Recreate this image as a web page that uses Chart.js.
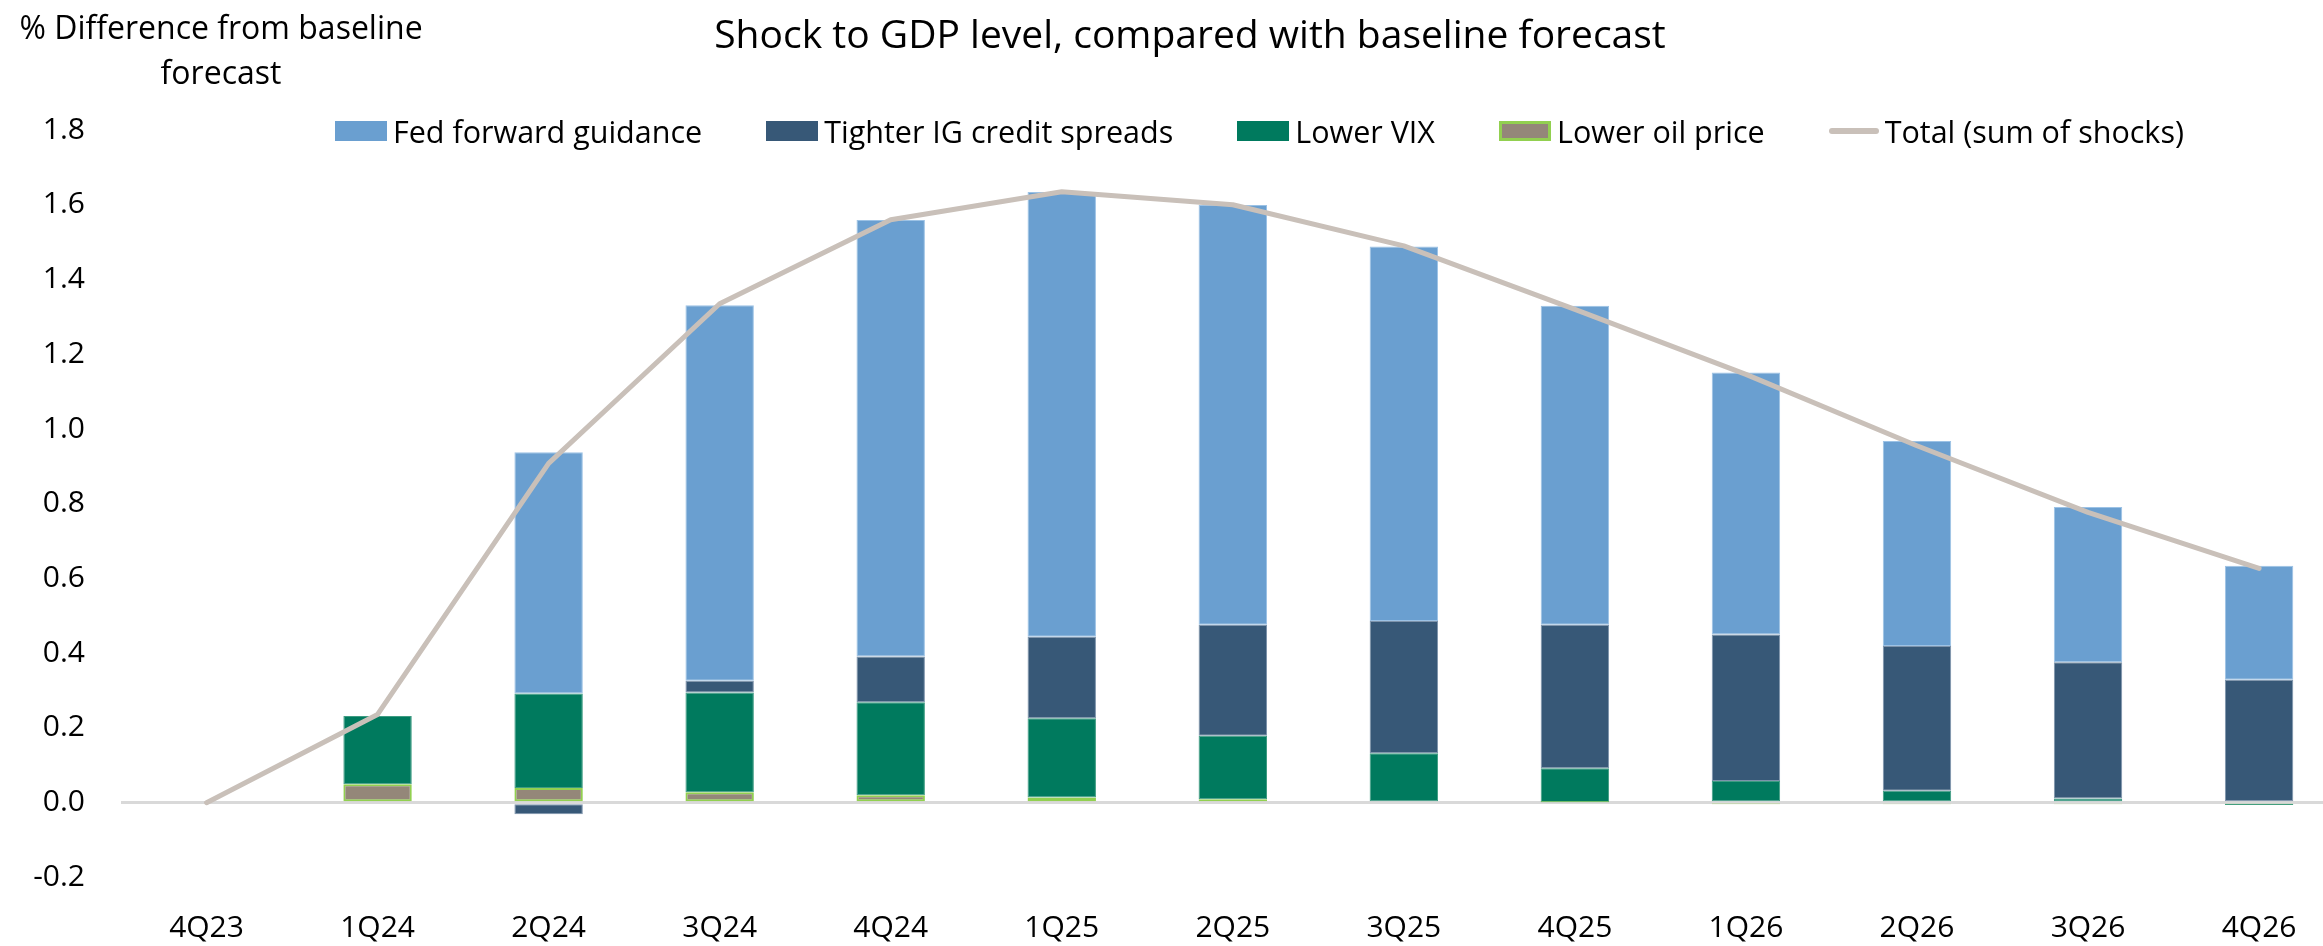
<!DOCTYPE html>
<html>
<head>
<meta charset="utf-8">
<script src="https://cdn.jsdelivr.net/npm/chart.js@4.4.1/dist/chart.umd.min.js"></script>
<style>
  html, body { margin: 0; padding: 0; background: #fff; overflow: hidden; }
  body { width: 2323px; height: 946px; position: relative; font-family: "Open Sans", "Noto Sans", sans-serif; color: #000; }
  #chart { position: absolute; left: 0; top: 0; }
  .title { position: absolute; left: 1190px; top: 6px; transform: translateX(-50%); font-size: 39px; white-space: nowrap; }
  .ytitle { position: absolute; left: 221px; top: 4px; transform: translateX(-50%); font-size: 32px; line-height: 45px; text-align: center; white-space: nowrap; }
  #legend { position: absolute; left: 335px; top: 110px; display: flex; align-items: center; gap: 64px; font-size: 30.5px; white-space: nowrap; }
  #legend .item { display: flex; align-items: center; gap: 6px; }
  #legend .box { width: 52px; height: 20px; box-sizing: border-box; }
  #legend .line { width: 50px; height: 6px; border-radius: 3px; }
</style>
</head>
<body>
<canvas id="chart" width="2400" height="946"></canvas>
<div class="title">Shock to GDP level, compared with baseline forecast</div>
<div class="ytitle">% Difference from baseline<br>forecast</div>
<div id="legend"></div>
<script>
const quarters = ["4Q23", "1Q24", "2Q24", "3Q24", "4Q24", "1Q25", "2Q25", "3Q25", "4Q25", "1Q26", "2Q26", "3Q26", "4Q26"];

const oilPrice = [0, 0.049, 0.039, 0.028, 0.020, 0.014, 0.009, 0.004, 0.001, -0.002, -0.003, -0.003, -0.003];
const lowerVix = [0, 0.183, 0.253, 0.267, 0.249, 0.212, 0.170, 0.128, 0.091, 0.058, 0.032, 0.011, -0.003];
const igSpreads = [0, 0, -0.031, 0.031, 0.122, 0.218, 0.297, 0.354, 0.384, 0.392, 0.387, 0.365, 0.329];
const fedGuidance = [0, 0, 0.646, 1.005, 1.168, 1.190, 1.123, 1.002, 0.854, 0.701, 0.549, 0.415, 0.305];
const totalShocks = [0, 0.236, 0.908, 1.335, 1.560, 1.635, 1.600, 1.490, 1.320, 1.146, 0.955, 0.777, 0.627];

const yTicks = [-0.2, 0, 0.2, 0.4, 0.6, 0.8, 1.0, 1.2, 1.4, 1.6, 1.8];

const colors = {
  fed: "#6A9FD0", fedEdge: "#9CC2E5",
  ig: "#375877", igEdge: "#7D93AB",
  vix: "#007A5E", vixEdge: "#3E9C82",
  oil: "#948779", oilEdge: "#92D050",
  total: "#C9C0B9"
};

const FONT = "'Open Sans', 'Noto Sans', sans-serif";

// html legend, in the order the chart shows it
const legendItems = [
  { label: "Fed forward guidance", fill: colors.fed },
  { label: "Tighter IG credit spreads", fill: colors.ig },
  { label: "Lower VIX", fill: colors.vix },
  { label: "Lower oil price", fill: colors.oil, edge: colors.oilEdge },
  { label: "Total (sum of shocks)", line: colors.total }
];
const legendEl = document.getElementById("legend");
legendItems.forEach(it => {
  const item = document.createElement("div");
  item.className = "item";
  const mark = document.createElement("div");
  if (it.line) {
    mark.className = "line";
    mark.style.background = it.line;
  } else {
    mark.className = "box";
    mark.style.background = it.fill;
    if (it.edge) mark.style.border = `3px solid ${it.edge}`;
  }
  const txt = document.createElement("span");
  txt.textContent = it.label;
  item.append(mark, txt);
  legendEl.appendChild(item);
});

const barBase = { type: "bar", stack: "shocks", order: 1, barPercentage: 0.4, categoryPercentage: 1, borderSkipped: false };

new Chart(document.getElementById("chart").getContext("2d"), {
  data: {
    labels: quarters,
    datasets: [
      { ...barBase, label: "Lower oil price", data: oilPrice, backgroundColor: colors.oil, borderColor: colors.oilEdge, borderWidth: 2 },
      { ...barBase, label: "Lower VIX", data: lowerVix, backgroundColor: colors.vix, borderColor: colors.vixEdge, borderWidth: 1 },
      { ...barBase, label: "Tighter IG credit spreads", data: igSpreads, backgroundColor: colors.ig, borderColor: colors.igEdge, borderWidth: 1 },
      { ...barBase, label: "Fed forward guidance", data: fedGuidance, backgroundColor: colors.fed, borderColor: colors.fedEdge, borderWidth: 1 },
      {
        type: "line", stack: "total", order: 0, label: "Total (sum of shocks)", data: totalShocks,
        borderColor: colors.total, borderWidth: 5, pointRadius: 0, tension: 0,
        borderCapStyle: "round", borderJoinStyle: "round", fill: false
      }
    ]
  },
  options: {
    responsive: false,
    animation: false,
    devicePixelRatio: 1,
    layout: { padding: { left: 0, right: 55.4, top: 130, bottom: 0 } },
    plugins: { legend: { display: false }, tooltip: { enabled: false }, title: { display: false } },
    scales: {
      x: {
        stacked: true,
        grid: { display: false, drawTicks: false },
        border: { display: false },
        ticks: { font: { family: FONT, size: 30 }, color: "#000", padding: 33, maxRotation: 0, autoSkip: false },
        afterFit: s => { s.height = 68.6; }
      },
      y: {
        stacked: true,
        min: -0.2,
        max: 1.8,
        afterBuildTicks: s => { s.ticks = yTicks.map(v => ({ value: v })); },
        ticks: { font: { family: FONT, size: 30 }, color: "#000", padding: 36, callback: v => Number(v).toFixed(1) },
        grid: {
          drawTicks: false,
          lineWidth: 3,
          color: ctx => (ctx.tick && Math.abs(ctx.tick.value) < 1e-9 ? "#D9D9D9" : "rgba(0,0,0,0)")
        },
        border: { display: false },
        afterFit: s => { s.width = 121; }
      }
    }
  }
});
</script>
</body>
</html>
